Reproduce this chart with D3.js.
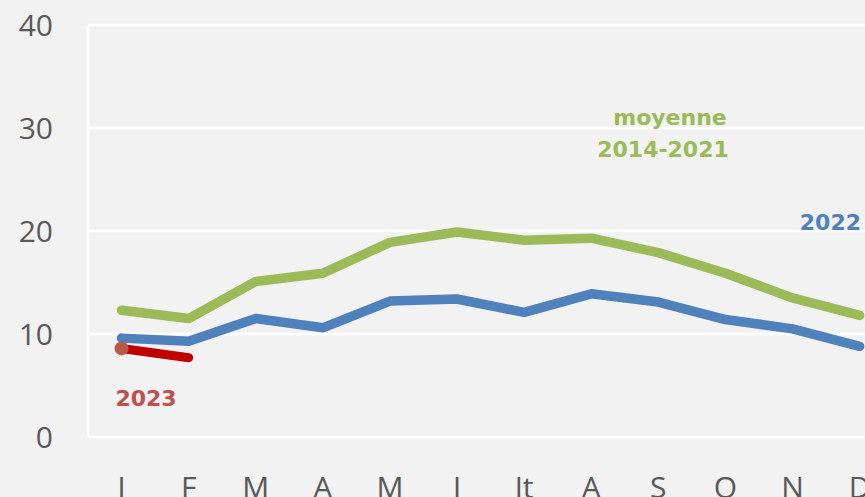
<!DOCTYPE html>
<html>
<head>
<meta charset="utf-8">
<script src="https://cdn.jsdelivr.net/npm/d3@7"></script>
<style>
  html, body { margin: 0; padding: 0; background: #f2f2f2; }
  svg { display: block; }
</style>
</head>
<body>
<div id="graph"></div>
<script>
var months = ['J', 'F', 'M', 'A', 'M', 'J', 'Jt', 'A', 'S', 'O', 'N', 'D'];
var moyenne = [12.3, 11.5, 15.1, 15.9, 18.9, 19.9, 19.1, 19.3, 17.9, 15.9, 13.5, 11.8];
var y2022 = [9.6, 9.3, 11.5, 10.6, 13.2, 13.4, 12.1, 13.9, 13.1, 11.4, 10.5, 8.8];
var y2023 = [8.6, 7.7];
var yTicks = [0, 10, 20, 30, 40];

window.onload = start;

function start() {
    var width = 865;
    var height = 497;

    var svg = d3.select('#graph')
        .append('svg')
        .attr('width', width)
        .attr('height', height);

    svg.append('rect')
        .attr('width', width)
        .attr('height', height)
        .attr('fill', '#f2f2f2');

    // x uses month index so repeated letters (J, M, A) stay distinct
    var xScale = d3.scaleBand()
        .domain(d3.range(months.length))
        .range([88, 88 + 67.1 * 12]);

    var yScale = d3.scaleLinear()
        .domain([0, 40])
        .range([437, 25]);

    function xc(i) { return xScale(i) + xScale.bandwidth() / 2; }

    // gridlines
    svg.append('g')
        .selectAll('line')
        .data(yTicks)
        .enter()
        .append('line')
        .attr('x1', 88)
        .attr('x2', width)
        .attr('y1', function(d) { return yScale(d); })
        .attr('y2', function(d) { return yScale(d); })
        .attr('stroke', '#ffffff')
        .attr('stroke-width', 2.5);

    svg.append('line')
        .attr('x1', 88).attr('x2', 88)
        .attr('y1', yScale(40)).attr('y2', yScale(0))
        .attr('stroke', '#ffffff')
        .attr('stroke-width', 2.5);

    // y labels
    svg.append('g')
        .selectAll('text')
        .data(yTicks)
        .enter()
        .append('text')
        .attr('x', 53)
        .attr('y', function(d) { return yScale(d); })
        .attr('dy', '0.36em')
        .attr('text-anchor', 'end')
        .attr('font-family', 'Open Sans, sans-serif')
        .attr('font-size', 30)
        .attr('fill', '#595959')
        .text(function(d) { return d; });

    // x labels (cut by the bottom edge, as in the original)
    svg.append('g')
        .selectAll('text')
        .data(months)
        .enter()
        .append('text')
        .attr('x', function(d, i) { return xc(i); })
        .attr('y', 498)
        .attr('text-anchor', 'middle')
        .attr('font-family', 'Open Sans, sans-serif')
        .attr('font-size', 30)
        .attr('fill', '#595959')
        .text(function(d) { return d; });

    var line = d3.line()
        .x(function(d, i) { return xc(i); })
        .y(function(d) { return yScale(d); });

    svg.append('path')
        .datum(moyenne)
        .attr('d', line)
        .attr('fill', 'none')
        .attr('stroke', '#9bbb59')
        .attr('stroke-width', 9.5)
        .attr('stroke-linecap', 'round')
        .attr('stroke-linejoin', 'round');

    svg.append('path')
        .datum(y2022)
        .attr('d', line)
        .attr('fill', 'none')
        .attr('stroke', '#4f81bd')
        .attr('stroke-width', 9.5)
        .attr('stroke-linecap', 'round')
        .attr('stroke-linejoin', 'round');

    svg.append('path')
        .datum(y2023)
        .attr('d', line)
        .attr('fill', 'none')
        .attr('stroke', '#c00000')
        .attr('stroke-width', 9)
        .attr('stroke-linecap', 'round')
        .attr('stroke-linejoin', 'round');

    svg.append('circle')
        .attr('cx', xc(0))
        .attr('cy', yScale(y2023[0]))
        .attr('r', 7)
        .attr('fill', '#b85a4a');

    // series labels
    var lab = svg.append('g')
        .attr('font-family', 'DejaVu Sans, sans-serif')
        .attr('font-weight', 'bold')
        .attr('font-size', 22);

    lab.append('text')
        .attr('x', 670).attr('y', 125)
        .attr('text-anchor', 'middle')
        .attr('fill', '#9bbb59')
        .text('moyenne');

    lab.append('text')
        .attr('x', 663).attr('y', 157)
        .attr('text-anchor', 'middle')
        .attr('fill', '#9bbb59')
        .text('2014-2021');

    lab.append('text')
        .attr('x', 861).attr('y', 230)
        .attr('text-anchor', 'end')
        .attr('fill', '#4f81bd')
        .text('2022');

    lab.append('text')
        .attr('x', 146).attr('y', 406)
        .attr('text-anchor', 'middle')
        .attr('fill', '#c0504d')
        .text('2023');
}
</script>
</body>
</html>
